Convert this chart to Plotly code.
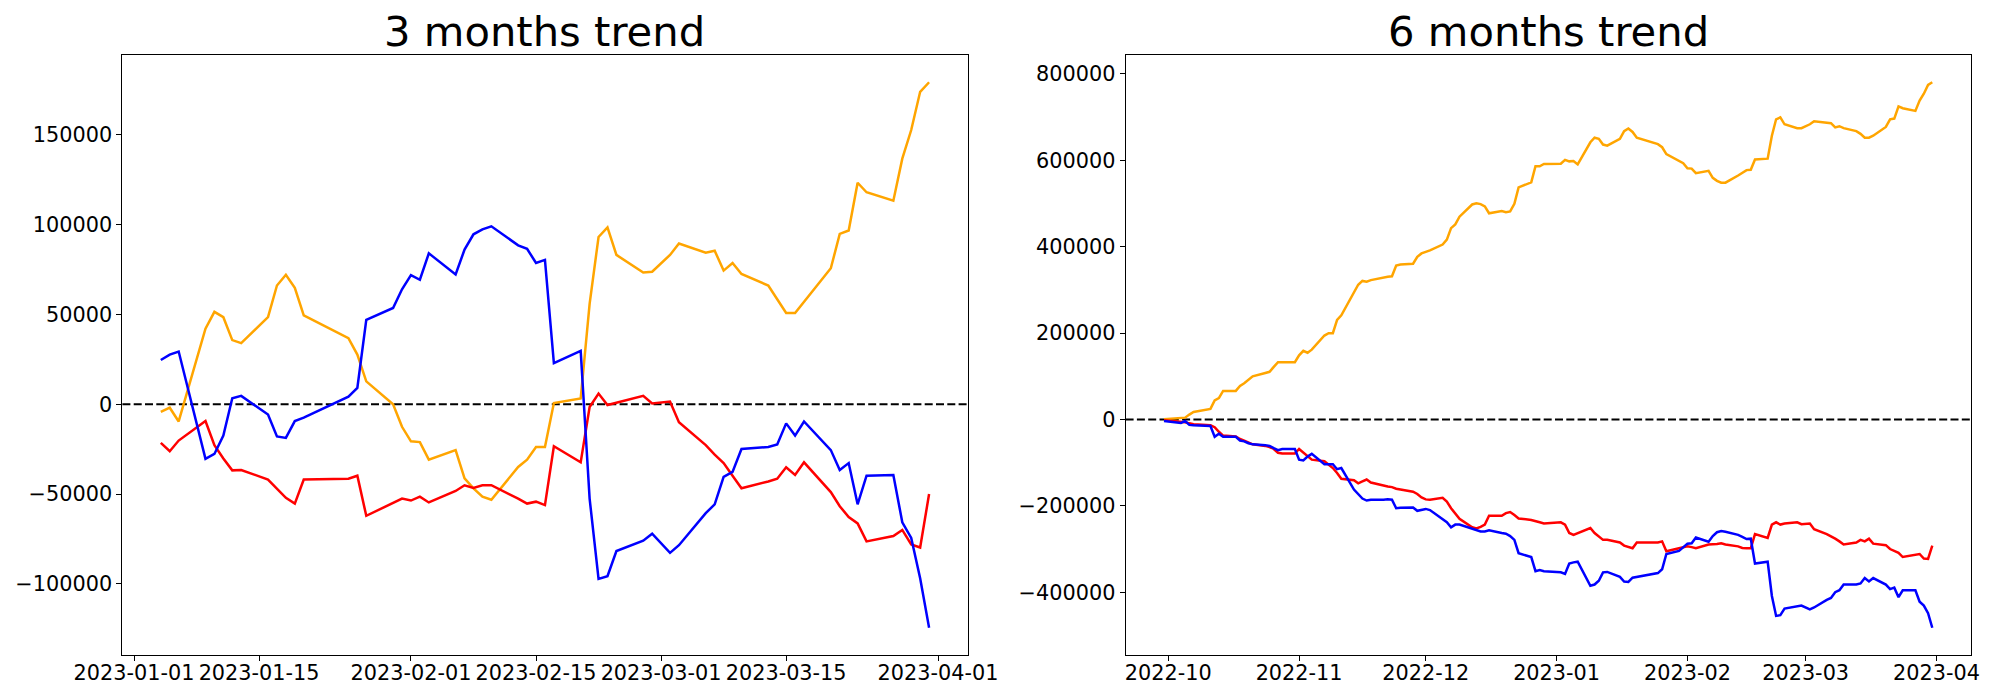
import pandas as pd
import plotly.graph_objects as go

# ---------------- 3 months data ----------------
dates_3m = [
    "2023-01-04", "2023-01-05", "2023-01-06", "2023-01-09", "2023-01-10", "2023-01-11",
    "2023-01-12", "2023-01-13", "2023-01-16", "2023-01-17", "2023-01-18", "2023-01-19",
    "2023-01-20", "2023-01-25", "2023-01-26", "2023-01-27", "2023-01-30", "2023-01-31",
    "2023-02-01", "2023-02-02", "2023-02-03", "2023-02-06", "2023-02-07", "2023-02-08",
    "2023-02-09", "2023-02-10", "2023-02-13", "2023-02-14", "2023-02-15", "2023-02-16",
    "2023-02-17", "2023-02-20", "2023-02-21", "2023-02-22", "2023-02-23", "2023-02-24",
    "2023-02-27", "2023-02-28",
    "2023-03-02", "2023-03-03", "2023-03-06", "2023-03-07", "2023-03-08", "2023-03-09",
    "2023-03-10", "2023-03-13", "2023-03-14", "2023-03-15", "2023-03-16", "2023-03-17",
    "2023-03-20", "2023-03-21", "2023-03-22", "2023-03-23", "2023-03-24", "2023-03-27",
    "2023-03-28", "2023-03-29", "2023-03-30", "2023-03-31",
]
orange_3m = [
    -4250, -1910, -9570, 42100, 51450, 48470, 35720, 34020, 48470, 66120, 72070, 64840,
    49540, 36780, 27640, 12760, 0, -12540,
    -20620, -21050, -30830, -25510, -41240, -46770, -51450, -53150, -34870, -30830,
    -23810, -23810, 640, 3190, 55910, 93120, 98430, 83130, 73350, 73770,
    83130, 89500, 84400, 85470, 74410, 78660, 72500, 66120, 58470, 50810, 50810, 57000,
    75690, 94820, 96730, 123310, 118000, 113320, 136700, 152650, 173900, 179220,
]
red_3m = [
    -21470, -26150, -20200, -9350, -22750, -30190, -36780, -36570, -41880, -47200, -52090,
    -55280, -41880, -41460, -39760, -62080, -55060, -52510,
    -53580, -51450, -54640, -48260, -45070, -46560, -45070, -45070, -52510, -55280,
    -54210, -56130, -23390, -32320, -1490, 5950, -430, 850, 4680, 430,
    1490, -9990, -22750, -28060, -32740, -39760, -46770, -42950, -41460, -35080, -39330,
    -32320, -48900, -56760, -62720, -66330, -76330, -73350, -69950, -78030, -79730, -49960,
]
blue_3m = [
    24660, 27640, 29340, -30400, -27640, -17430, 3400, 4680, -5740, -17860, -18710, -9350,
    -7440, 4250, 9140, 46980, 53580, 64000,
    71860, 69310, 83980, 72280, 86100, 94610, 97370, 99070, 88440, 86530, 78660, 80360,
    22960, 29760, -52510, -97160, -95670, -81640, -75900, -72070,
    -82700, -78450, -60590, -55700, -40390, -37630, -24870, -23810, -22320, -10630, -17430,
    -9570, -25510, -36570, -32740, -55700, -39760, -39330, -65690, -74410, -96780, -124370,
]

# ---------------- 6 months data ----------------
dates_6m = [
    "2022-09-30",
    "2022-10-04", "2022-10-05", "2022-10-06", "2022-10-07",
    "2022-10-11", "2022-10-12", "2022-10-13", "2022-10-14",
    "2022-10-17", "2022-10-18", "2022-10-19", "2022-10-20", "2022-10-21",
    "2022-10-24", "2022-10-25", "2022-10-26", "2022-10-27", "2022-10-28",
    "2022-10-31",
    "2022-11-01", "2022-11-02", "2022-11-03", "2022-11-04",
    "2022-11-07", "2022-11-08", "2022-11-09", "2022-11-10", "2022-11-11",
    "2022-11-14", "2022-11-15", "2022-11-16", "2022-11-17", "2022-11-18",
    "2022-11-21", "2022-11-22", "2022-11-23", "2022-11-24", "2022-11-25",
    "2022-11-28", "2022-11-29", "2022-11-30",
    "2022-12-01", "2022-12-02",
    "2022-12-05", "2022-12-06", "2022-12-07", "2022-12-08", "2022-12-09",
    "2022-12-12", "2022-12-13", "2022-12-14", "2022-12-15", "2022-12-16",
    "2022-12-19", "2022-12-20", "2022-12-21", "2022-12-22", "2022-12-23",
    "2022-12-26", "2022-12-27", "2022-12-28", "2022-12-29",
    "2023-01-02", "2023-01-03", "2023-01-04", "2023-01-05", "2023-01-06",
    "2023-01-09", "2023-01-10", "2023-01-11", "2023-01-12", "2023-01-13",
    "2023-01-16", "2023-01-17", "2023-01-18", "2023-01-19", "2023-01-20",
    "2023-01-25", "2023-01-26", "2023-01-27",
    "2023-01-30", "2023-01-31",
    "2023-02-01", "2023-02-02", "2023-02-03",
    "2023-02-06", "2023-02-07", "2023-02-08", "2023-02-09", "2023-02-10",
    "2023-02-13", "2023-02-14", "2023-02-15", "2023-02-16", "2023-02-17",
    "2023-02-20", "2023-02-21", "2023-02-22", "2023-02-23", "2023-02-24",
    "2023-02-27", "2023-02-28",
    "2023-03-02", "2023-03-03",
    "2023-03-06", "2023-03-07", "2023-03-08", "2023-03-09", "2023-03-10",
    "2023-03-13", "2023-03-14", "2023-03-15", "2023-03-16", "2023-03-17",
    "2023-03-20", "2023-03-21", "2023-03-22", "2023-03-23", "2023-03-24",
    "2023-03-27", "2023-03-28", "2023-03-29", "2023-03-30", "2023-03-31",
]
orange_6m = [
    800,
    2650, 4400, 11500, 17700,
    24700, 44200, 49500, 66300,
    66300, 77800, 84000, 91000, 99900,
    107800, 110500, 122000, 132600, 132600,
    132600,
    148500, 159100, 154700, 161700,
    194400, 199700, 199700, 230700, 241300,
    294000, 312000, 320800, 319000, 322600,
    329700, 330500, 331400, 356200, 358800,
    360600, 376500, 384400,
    388000, 391500,
    404800, 416300, 442800, 451600, 469300,
    497600, 500200, 498500, 493200, 477300,
    482600, 479900, 481700, 499300, 537300,
    548800, 586000, 586000, 591300,
    592100, 600900, 597400, 598300, 590400,
    641600, 652200, 649600, 636300, 633700,
    649600, 667300, 673500, 665500, 652200,
    637200, 630100, 614200,
    599200, 593000,
    581500, 580600, 570000,
    575400, 559400, 552400, 548000, 548000,
    564700, 570000, 577100, 578000, 601900,
    603600, 656700, 694700, 699100, 683200,
    674300, 674300,
    683200, 690200,
    685800, 685800, 676100, 678700, 674300,
    667300, 661100, 652200, 652200, 656700,
    677000, 694700, 696400, 724700, 720300,
    714100, 738000, 753900, 774200, 780400,
]
red_6m = [
    -1800,
    -4400, -6200, -8800, -10600,
    -13300, -17700, -28300, -37100,
    -38900, -45100, -48600, -53900, -57400,
    -61000, -63600, -68100, -76900, -78700,
    -78700,
    -68100, -76900, -85700, -92800,
    -96300, -103400, -112200, -123700, -137000,
    -140500, -147600, -143200, -138800, -145800,
    -153800, -154700, -156400, -160000, -161700,
    -167000, -172300, -180300,
    -184700, -185600,
    -181200, -190000, -205100, -218400, -229800,
    -249200, -251900, -248300, -243000, -222700,
    -222700, -216500, -213900, -221000, -228900,
    -232400, -234200, -237700, -240400,
    -237700, -243000, -262500, -266900, -262500,
    -251000, -262500, -271300, -278400, -278400,
    -284600, -291700, -295200, -297800, -284600,
    -284600, -281900, -304900,
    -297800, -296100,
    -293400, -295200, -297800,
    -289000, -289000, -288100, -286300, -289000,
    -293400, -297000, -297800, -297800, -265100,
    -274000, -243000, -237700, -243000, -240400,
    -237700, -242200,
    -240400, -253600,
    -265100, -269600, -275700, -281900, -289000,
    -284600, -278400, -281900, -275700, -287200,
    -290700, -299600, -304000, -308400, -318100,
    -312900, -311100, -321700, -322600, -291700,
]
blue_6m = [
    -3500,
    -8000, -3500, -12400, -13300,
    -15000, -39800, -32700, -39800,
    -39800, -48600, -50400, -54800, -57400,
    -59200, -61000, -66300, -70700, -68100,
    -68100,
    -92800, -94600, -85700, -79500,
    -103400, -103400, -103400, -114900, -112200,
    -162000, -172300, -182900, -187400, -185600,
    -185600, -184700, -185600, -205100, -204200,
    -203300, -211200, -208600,
    -206800, -209500,
    -229800, -237700, -249200, -243000, -243000,
    -253600, -256300, -259000, -259000, -256300,
    -262500, -264300, -269600, -278400, -309300,
    -318100, -350900, -348200, -350900,
    -353500, -357100, -333200, -330500, -328800,
    -384500, -381800, -373000, -353500, -352600,
    -364100, -374700, -375600, -365900, -364100,
    -355300, -346500, -311100,
    -304000, -296100,
    -287200, -286300, -273100,
    -282800, -269600, -260700, -258100, -259800,
    -266900, -271300, -276600, -275700, -333200,
    -328800, -408300, -454300, -452500, -437500,
    -432200, -430400,
    -439300, -434800,
    -417200, -412700, -399500, -395000, -381800,
    -381800, -379200, -366800, -374700, -366800,
    -381800, -392400, -388900, -411000, -395000,
    -395000, -421600, -430400, -448100, -481700,
]

# tick definitions
xticks_3m = ["2023-01-01", "2023-01-15", "2023-02-01", "2023-02-15", "2023-03-01", "2023-03-15", "2023-04-01"]
xticks_6m = ["2022-10-01", "2022-11-01", "2022-12-01", "2023-01-01", "2023-02-01", "2023-03-01", "2023-04-01"]
yticks_3m = [-100000, -50000, 0, 50000, 100000, 150000]
yticks_6m = [-400000, -200000, 0, 200000, 400000, 600000, 800000]

FONT = "DejaVu Sans"
W, H = 2000, 700
OFF = 8  # page body margin of the html output


def minus(v):
    return str(v).replace("-", "\u2212")


def xrange_of(dates):
    d = pd.to_datetime(pd.Series(dates))
    span = d.max() - d.min()
    return [(d.min() - 0.05 * span).isoformat(), (d.max() + 0.05 * span).isoformat()]


def yrange_of(*series):
    lo = min(min(s) for s in series)
    hi = max(max(s) for s in series)
    pad = 0.05 * (hi - lo)
    return [lo - pad, hi + pad]


fig = go.Figure()

panels = [
    ("x", "y", dates_3m, orange_3m, red_3m, blue_3m),
    ("x2", "y2", dates_6m, orange_6m, red_6m, blue_6m),
]
for xa, ya, d, o, r, b in panels:
    for vals, col in ((o, "orange"), (r, "#ff0000"), (b, "#0000ff")):
        fig.add_trace(go.Scatter(x=d, y=vals, mode="lines", xaxis=xa, yaxis=ya,
                                 line=dict(color=col, width=2.5), showlegend=False,
                                 hoverinfo="skip"))

# axes boxes (screen pixels -> paper)
left_dom = [(122.4 - OFF) / W, (967.5 - OFF) / W]
right_dom = [(1125.6 - OFF) / W, (1970.7 - OFF) / W]
y_dom = [(H - (655 - OFF)) / H, (H - (55 - OFF)) / H]

common_axis = dict(showline=True, linecolor="black", linewidth=1.1, mirror=True,
                   ticks="outside", ticklen=5, tickwidth=1.1, tickcolor="black",
                   showgrid=False, zeroline=False, automargin=False,
                   tickfont=dict(family=FONT, size=20.8, color="black"))

fig.update_layout(
    width=W, height=H,
    margin=dict(l=0, r=0, t=0, b=0, pad=0),
    paper_bgcolor="white", plot_bgcolor="white",
    showlegend=False,
    xaxis=dict(domain=left_dom, type="date", range=xrange_of(dates_3m),
               tickvals=xticks_3m, ticktext=xticks_3m, anchor="y",
               ticklabelstandoff=-6, **common_axis),
    yaxis=dict(domain=y_dom, range=yrange_of(orange_3m, red_3m, blue_3m),
               tickvals=yticks_3m, ticktext=[minus(v) for v in yticks_3m],
               anchor="x", **common_axis),
    xaxis2=dict(domain=right_dom, type="date", range=xrange_of(dates_6m),
                tickvals=xticks_6m, ticktext=[t[:7] for t in xticks_6m],
                anchor="y2", ticklabelstandoff=-6, **common_axis),
    yaxis2=dict(domain=y_dom, range=yrange_of(orange_6m, red_6m, blue_6m),
                tickvals=yticks_6m, ticktext=[minus(v) for v in yticks_6m],
                anchor="x2", **common_axis),
)

# dashed zero lines across the full axes width
for xr, yr in (("x domain", "y"), ("x2 domain", "y2")):
    fig.add_shape(type="line", xref=xr, yref=yr, x0=0, x1=1, y0=0, y1=0,
                  line=dict(color="black", width=2.1, dash="8px,3.3px"), layer="below")

# titles
for dom, text in ((left_dom, "3 months trend"), (right_dom, "6 months trend")):
    fig.add_annotation(text=text, xref="paper", yref="paper",
                       x=(dom[0] + dom[1]) / 2, y=y_dom[1], xanchor="center", yanchor="bottom",
                       yshift=-3, showarrow=False,
                       font=dict(family=FONT, size=41.7, color="black"))

fig.write_html("out.html")
